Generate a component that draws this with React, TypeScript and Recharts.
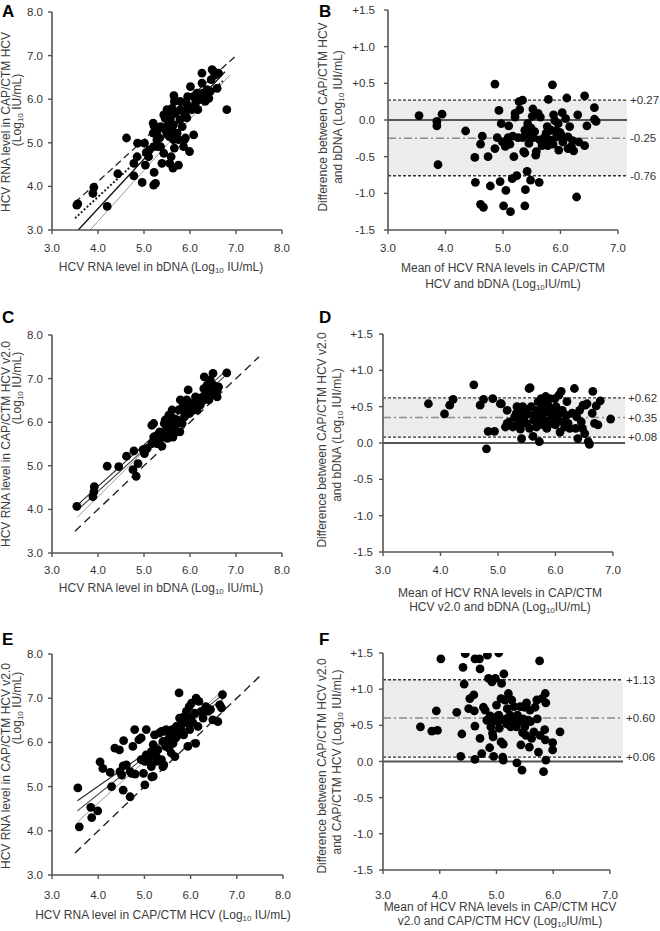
import React from 'react';
import { ScatterChart, Scatter, XAxis, YAxis, ReferenceLine, ReferenceArea } from 'recharts';

type Pt = [number, number];
type Seg = [number, number, number, number];

const scatterTicks = [3, 4, 5, 6, 7, 8];
const meanTicks = [3, 4, 5, 6, 7];
const diffTicks = [-1.5, -1, -0.5, 0, 0.5, 1, 1.5];

// Panel A: CAP/CTM HCV vs bDNA
const pointsA: Pt[] = [
  [3.54, 3.57], [3.56, 3.6], [3.91, 3.98], [3.89, 3.84], [4.2, 3.54], [4.43, 4.29], [4.62, 5.11], [4.78, 4.24],
  [4.78, 4.53], [4.85, 4.68], [4.86, 4.99], [4.96, 4.09], [5.01, 4.99], [5.03, 4.49], [5.05, 4.78], [5.1, 4.68],
  [5.12, 4.84], [5.2, 5.45], [5.2, 5.22], [5.21, 4.91], [5.21, 4.03], [5.25, 4.07], [5.22, 4.32], [5.22, 5.38],
  [5.28, 5.07], [5.3, 4.91], [5.34, 5.11], [5.36, 4.91], [5.39, 4.53], [5.43, 4.76], [5.46, 5.3], [5.46, 5.56],
  [5.49, 5.37], [5.5, 5.22], [5.51, 5.64], [5.54, 5.41], [5.55, 5.14], [5.56, 4.53], [5.57, 5.53], [5.59, 4.68],
  [5.61, 5.64], [5.61, 5.3], [5.63, 4.42], [5.64, 5.07], [5.64, 5.41], [5.66, 4.88], [5.68, 5.68], [5.72, 5.22],
  [5.75, 5.07], [5.75, 4.49], [5.78, 5.53], [5.79, 5.76], [5.79, 5.95], [5.83, 5.37], [5.85, 5.72], [5.86, 4.91],
  [5.88, 5.07], [5.9, 5.64], [5.92, 5.91], [5.93, 5.57], [5.95, 6.06], [5.97, 5.83], [5.99, 4.8], [6.01, 6.29],
  [6.04, 5.76], [6.07, 6.06], [6.08, 5.18], [6.12, 5.91], [6.15, 6.14], [6.17, 5.76], [6.21, 5.99], [6.22, 6.06],
  [6.26, 6.37], [6.26, 6.6], [6.28, 6.14], [6.31, 5.99], [6.33, 5.95], [6.37, 6.22], [6.41, 6.02], [6.44, 6.18],
  [6.46, 6.45], [6.48, 6.68], [6.51, 6.64], [6.55, 6.56], [6.59, 6.25], [6.62, 6.6], [6.8, 5.76], [5.5, 5.76],
  [5.43, 5.64], [5.61, 5.79], [5.65, 6.08], [5.66, 5.95], [5.36, 5.37], [5.28, 5.26], [5.9, 5.11],
];
const linesA: Seg[] = [
  [3.5, 3.63, 7.0, 7.0],
  [3.5, 3.27, 6.75, 6.45],
  [3.57, 3.0, 6.76, 6.63],
  [3.83, 3.0, 6.87, 6.56],
];

// Panel B: Bland-Altman CAP/CTM HCV - bDNA
const pointsB: Pt[] = [
  [3.54, 0.06], [3.85, -0.02], [3.85, -0.08], [3.94, 0.08], [3.87, -0.61], [4.35, -0.15], [4.51, -0.51], [4.61, -0.33],
  [4.64, -0.22], [4.52, -0.85], [4.61, -1.15], [4.66, -1.19], [4.74, -0.5], [4.78, -0.9], [4.86, 0.49], [4.86, -0.39],
  [4.9, -0.24], [4.93, 0.13], [4.95, -0.84], [4.97, -0.05], [4.99, -0.3], [5.04, -0.36], [5.05, -0.96], [5.01, -1.17],
  [5.09, -0.24], [5.1, -0.08], [5.12, -0.33], [5.13, -1.25], [5.16, -0.8], [5.17, -0.22], [5.19, -0.5], [5.21, 0.04],
  [5.21, 0.09], [5.24, -0.76], [5.26, -0.24], [5.28, 0.25], [5.29, 0.14], [5.34, 0.27], [5.34, -0.24], [5.36, -0.43],
  [5.38, -0.45], [5.38, -0.14], [5.39, -0.95], [5.38, -1.17], [5.42, -0.7], [5.43, -0.05], [5.45, -0.32], [5.46, -0.22],
  [5.48, -0.82], [5.49, -0.11], [5.51, 0.05], [5.52, 0.15], [5.53, -0.24], [5.55, -0.16], [5.57, -0.48], [5.58, -0.43],
  [5.61, 0.09], [5.63, -0.85], [5.64, -0.27], [5.65, 0.04], [5.68, -0.35], [5.7, -0.32], [5.72, -0.24], [5.75, -0.18],
  [5.77, -0.09], [5.78, -0.35], [5.79, 0.28], [5.81, -0.27], [5.84, -0.14], [5.86, 0.48], [5.87, -0.33], [5.88, 0.07],
  [5.9, -0.01], [5.92, -0.15], [5.93, -0.23], [5.96, -0.05], [5.97, -0.41], [5.99, -0.17], [6.01, -0.2], [6.03, 0.1],
  [6.04, -0.3], [6.09, 0.02], [6.11, 0.3], [6.13, -0.39], [6.13, -0.23], [6.16, -0.09], [6.19, -0.36], [6.21, -0.28],
  [6.23, -0.42], [6.28, -1.05], [6.3, 0.07], [6.32, -0.3], [6.42, 0.33], [6.42, -0.35], [6.46, -0.08], [6.59, 0.17],
  [6.59, 0.01], [6.62, -0.02],
];
const limitsB = [0.27, -0.25, -0.76];
const limitLabelsB = ['+0.27', '-0.25', '-0.76'];

// Panel C: CAP/CTM HCV v2.0 vs bDNA
const pointsC: Pt[] = [
  [3.54, 4.07], [3.92, 4.52], [3.91, 4.4], [3.89, 4.29], [4.2, 4.99], [4.45, 4.98], [4.62, 5.22], [4.76, 4.91],
  [4.78, 5.34], [4.83, 4.76], [4.87, 5.05], [4.98, 5.37], [5.01, 5.28], [5.07, 5.4], [5.17, 5.93], [5.21, 5.97],
  [5.17, 5.51], [5.21, 5.66], [5.25, 5.59], [5.28, 5.7], [5.32, 5.51], [5.34, 5.78], [5.39, 5.45], [5.43, 5.74],
  [5.44, 5.97], [5.46, 6.05], [5.5, 5.86], [5.51, 5.63], [5.54, 6.16], [5.56, 5.74], [5.57, 5.97], [5.59, 5.86],
  [5.61, 6.28], [5.63, 5.66], [5.64, 6.09], [5.68, 5.93], [5.7, 5.78], [5.75, 6.28], [5.78, 5.78], [5.79, 6.51],
  [5.83, 6.28], [5.85, 6.39], [5.88, 6.12], [5.9, 6.28], [5.93, 6.51], [5.96, 6.74], [5.99, 6.2], [6.01, 6.35],
  [6.04, 6.43], [6.08, 6.28], [6.12, 6.58], [6.17, 6.51], [6.19, 6.39], [6.22, 6.55], [6.26, 6.47], [6.3, 6.77],
  [6.31, 7.04], [6.33, 6.62], [6.37, 6.85], [6.41, 6.51], [6.44, 6.97], [6.46, 6.7], [6.5, 7.12], [6.51, 6.85],
  [6.55, 6.62], [6.59, 6.58], [6.62, 6.81], [6.8, 7.13], [5.28, 5.51], [5.36, 5.63], [5.57, 6.09], [5.72, 6.05],
  [5.83, 5.97], [5.92, 6.39], [6.04, 6.28], [6.15, 6.28], [6.22, 6.39], [6.33, 6.55], [6.41, 6.74], [6.59, 6.74],
];
const linesC: Seg[] = [
  [3.5, 3.5, 7.5, 7.5],
  [3.55, 4.1, 6.75, 7.15],
  [3.55, 3.98, 6.75, 7.05],
  [3.55, 3.82, 6.8, 7.22],
];

// Panel D: Bland-Altman CAP/CTM HCV v2.0 - bDNA
const pointsD: Pt[] = [
  [3.79, 0.54], [4.07, 0.4], [4.16, 0.52], [4.22, 0.6], [4.58, 0.8], [4.69, 0.52], [4.75, 0.6], [4.8, -0.08],
  [4.83, 0.16], [4.91, 0.61], [4.94, 0.16], [5.04, 0.54], [5.06, 0.54], [5.16, 0.45], [5.13, 0.22], [5.16, 0.27],
  [5.2, 0.29], [5.26, 0.22], [5.29, 0.36], [5.32, 0.41], [5.33, 0.5], [5.35, 0.27], [5.37, 0.34], [5.38, 0.45],
  [5.39, 0.19], [5.41, 0.06], [5.42, 0.4], [5.43, 0.5], [5.45, 0.29], [5.46, 0.36], [5.48, 0.46], [5.49, 0.27],
  [5.52, 0.4], [5.54, 0.75], [5.56, 0.76], [5.55, 0.2], [5.58, 0.5], [5.61, 0.09], [5.62, 0.31], [5.64, 0.38],
  [5.66, 0.45], [5.67, 0.22], [5.7, 0.57], [5.71, 0.31], [5.72, 0.02], [5.74, 0.41], [5.75, 0.61], [5.77, 0.5],
  [5.78, 0.34], [5.79, 0.25], [5.81, 0.57], [5.83, 0.64], [5.84, 0.43], [5.85, 0.2], [5.87, 0.52], [5.89, 0.31],
  [5.9, 0.61], [5.93, 0.41], [5.94, 0.27], [5.96, 0.45], [5.97, 0.36], [5.99, 0.61], [6.0, 0.25], [6.01, 0.5],
  [6.04, 0.31], [6.06, 0.66], [6.07, 0.41], [6.08, 0.15], [6.1, 0.71], [6.12, 0.45], [6.13, 0.29], [6.16, 0.22],
  [6.19, 0.38], [6.2, 0.57], [6.22, 0.27], [6.25, 0.2], [6.29, 0.41], [6.33, 0.75], [6.35, 0.2], [6.37, 0.36],
  [6.39, 0.06], [6.42, 0.45], [6.45, 0.29], [6.47, 0.2], [6.48, 0.52], [6.51, 0.13], [6.52, 0.52], [6.55, 0.54],
  [6.57, 0.02], [6.59, -0.02], [6.64, 0.41], [6.65, 0.71], [6.68, 0.27], [6.71, 0.51], [6.74, 0.25], [6.78, 0.58],
  [6.96, 0.33],
];
const limitsD = [0.62, 0.35, 0.08];
const limitLabelsD = ['+0.62', '+0.35', '+0.08'];

// Panel E: CAP/CTM HCV v2.0 vs CAP/CTM HCV
const pointsE: Pt[] = [
  [3.56, 4.97], [3.59, 4.09], [3.84, 4.53], [3.86, 4.3], [3.99, 4.45], [4.29, 5.0], [4.04, 5.56], [4.1, 5.41],
  [4.26, 5.32], [4.47, 5.34], [4.54, 4.92], [4.69, 4.77], [4.51, 5.26], [4.69, 5.34], [4.8, 5.28], [5.01, 5.04],
  [4.98, 5.3], [5.16, 5.22], [4.54, 5.47], [4.36, 5.87], [4.46, 5.83], [4.55, 6.04], [4.79, 6.29], [4.75, 5.91],
  [4.88, 6.06], [4.93, 6.1], [5.04, 6.29], [5.08, 5.57], [5.11, 5.68], [5.15, 5.79], [5.19, 5.95], [5.22, 6.17],
  [5.26, 5.68], [5.29, 5.83], [5.32, 6.21], [5.37, 5.61], [5.4, 6.02], [5.42, 5.49], [5.44, 6.25], [5.46, 5.91],
  [5.47, 6.29], [5.51, 6.06], [5.53, 5.87], [5.56, 6.17], [5.58, 5.76], [5.6, 6.29], [5.62, 5.98], [5.66, 5.68],
  [5.68, 6.1], [5.69, 6.36], [5.73, 6.17], [5.75, 7.12], [5.76, 6.55], [5.8, 6.29], [5.82, 6.44], [5.85, 6.17],
  [5.87, 6.59], [5.91, 6.7], [5.92, 6.44], [5.94, 5.91], [5.97, 6.81], [5.98, 6.29], [6.0, 6.55], [6.02, 6.89],
  [6.05, 6.44], [6.09, 6.66], [6.11, 5.98], [6.12, 7.0], [6.16, 6.36], [6.18, 6.93], [6.23, 6.7], [6.27, 6.55],
  [6.33, 6.81], [6.38, 6.7], [6.43, 6.74], [6.48, 6.51], [6.59, 6.47], [6.63, 6.85], [6.67, 6.78], [6.69, 7.08],
  [4.93, 5.61], [5.01, 5.57], [5.04, 5.72], [5.15, 5.45], [5.19, 5.23], [5.26, 5.57], [5.4, 5.45], [5.37, 6.25],
  [4.61, 5.49], [4.72, 5.3],
];
const linesE: Seg[] = [
  [3.5, 3.5, 7.5, 7.5],
  [3.55, 4.68, 6.7, 6.98],
  [3.55, 4.45, 6.7, 7.08],
  [3.55, 4.2, 6.72, 7.2],
];

// Panel F: Bland-Altman CAP/CTM HCV v2.0 - CAP/CTM HCV
const pointsF: Pt[] = [
  [3.66, 0.48], [3.86, 0.42], [3.96, 0.43], [3.94, 0.7], [4.02, 1.42], [4.3, 0.68], [4.39, 0.38], [4.37, 0.07],
  [4.41, 1.3], [4.43, 1.07], [4.45, 1.49], [4.51, 0.73], [4.53, 0.87], [4.6, 0.92], [4.61, 0.7], [4.62, 0.49],
  [4.62, 0.03], [4.62, 1.42], [4.7, 1.42], [4.71, 1.28], [4.71, 0.32], [4.74, 0.11], [4.77, 0.75], [4.8, 0.71],
  [4.83, 0.57], [4.84, 1.47], [4.86, 1.15], [4.88, 0.19], [4.89, 0.63], [4.9, 0.48], [4.92, 1.1], [4.93, 0.39],
  [4.94, 0.34], [4.95, 0.07], [4.96, 0.57], [4.98, 1.15], [5.0, 0.78], [5.01, 0.62], [5.02, 0.55], [5.04, 1.5],
  [5.04, 0.64], [5.05, 0.46], [5.08, 0.87], [5.08, 0.27], [5.09, 1.08], [5.09, 0.58], [5.11, 0.06], [5.12, 0.24],
  [5.12, 0.02], [5.13, 1.21], [5.15, 0.85], [5.17, 0.59], [5.18, 0.52], [5.19, 0.73], [5.21, 0.94], [5.23, 0.57],
  [5.24, 0.64], [5.25, 0.48], [5.27, 0.85], [5.29, 0.56], [5.31, 0.76], [5.33, 0.57], [5.35, 0.48], [5.36, -0.02],
  [5.37, 0.64], [5.39, 0.55], [5.42, 0.76], [5.43, 0.23], [5.45, -0.12], [5.46, 0.4], [5.47, 0.59], [5.49, 0.75],
  [5.5, 0.48], [5.52, 0.36], [5.53, 0.81], [5.56, 0.57], [5.58, 0.2], [5.59, 0.71], [5.6, 0.55], [5.62, 0.32],
  [5.66, 0.41], [5.68, 0.75], [5.71, 0.85], [5.72, 0.59], [5.74, 0.13], [5.76, 1.39], [5.77, 0.36], [5.8, 0.87],
  [5.83, -0.14], [5.85, 0.44], [5.86, 0.94], [5.86, 0.3], [5.87, 0.81], [5.87, 0.02], [5.99, 0.26], [5.99, 0.16],
  [6.12, 0.41],
];
const limitsF = [1.13, 0.6, 0.06];
const limitLabelsF = ['+1.13', '+0.60', '+0.06'];

const FONT = '"Liberation Sans", Arial, Helvetica, sans-serif';
const TEXT = '#333';
const TITLE = '#3c3c3c';
const AXIS = '#555';
const TICK_FS = 11.5;

const scatterLineStylesA = [
  { stroke: '#222', strokeWidth: 1.3, strokeDasharray: '7 4' },
  { stroke: '#222', strokeWidth: 2, strokeDasharray: '2 2' },
  { stroke: '#111', strokeWidth: 1.3 },
  { stroke: '#9a9a9a', strokeWidth: 1 },
];
const scatterLineStylesCE = [
  { stroke: '#222', strokeWidth: 1.4, strokeDasharray: '8 5' },
  { stroke: '#222', strokeWidth: 1.1 },
  { stroke: '#444', strokeWidth: 1.1 },
  { stroke: '#9a9a9a', strokeWidth: 1 },
];

const f1 = (v: number) => v.toFixed(1);
const fd = (v: number) => (v > 0 ? '+' + v.toFixed(1) : v.toFixed(1));
const toData = (pts: Pt[]) => pts.map(([x, y]) => ({ x, y }));
const dot = (p: any) => <circle cx={p.cx} cy={p.cy} r={4.4} fill="#000" />;

type Box = { left: number; top: number; width: number; height: number };
type Margin = { top: number; right: number; bottom: number; left: number };

function ScatterPanel(props: {
  box: Box; margin: Margin; yW: number; xH: number; xGap: number; yGap: number;
  points: Pt[]; lines: Seg[]; styles: any[];
}) {
  const { box, margin, yW, xH, xGap, yGap, points, lines, styles } = props;
  return (
    <div style={{ position: 'absolute', left: box.left, top: box.top }}>
      <ScatterChart width={box.width} height={box.height} margin={margin}>
        <XAxis type="number" dataKey="x" domain={[3, 8]} ticks={scatterTicks} interval={0} tickFormatter={f1}
          height={xH} tickSize={4} tickMargin={xGap} tick={{ fill: TEXT, fontSize: TICK_FS }}
          axisLine={{ stroke: AXIS, strokeWidth: 1.6 }} tickLine={{ stroke: AXIS, strokeWidth: 1.4 }} allowDataOverflow />
        <YAxis type="number" dataKey="y" domain={[3, 8]} ticks={scatterTicks} interval={0} tickFormatter={f1}
          width={yW} tickSize={4} tickMargin={yGap} tick={{ fill: TEXT, fontSize: TICK_FS }}
          axisLine={{ stroke: AXIS, strokeWidth: 1.6 }} tickLine={{ stroke: AXIS, strokeWidth: 1.4 }} allowDataOverflow />
        <Scatter data={toData(points)} shape={dot} isAnimationActive={false} />
        {lines.map((s, i) => (
          <ReferenceLine key={i} segment={[{ x: s[0], y: s[1] }, { x: s[2], y: s[3] }]} {...styles[i]} />
        ))}
      </ScatterChart>
    </div>
  );
}

function DiffPanel(props: {
  box: Box; margin: Margin; yW: number; xH: number; xGap: number; yGap: number; xMax: number;
  points: Pt[]; limits: number[]; labels: string[];
}) {
  const { box, margin, yW, xH, xGap, yGap, xMax, points, limits, labels } = props;
  const [upper, mean, lower] = limits;
  const lab = (v: string) => ({ value: v, position: 'right' as const, offset: 3, fill: TEXT, fontSize: TICK_FS });
  return (
    <div style={{ position: 'absolute', left: box.left, top: box.top }}>
      <ScatterChart width={box.width} height={box.height} margin={margin}>
        <XAxis type="number" dataKey="x" domain={[3, xMax]} ticks={meanTicks} interval={0} tickFormatter={f1}
          height={xH} tickSize={4} tickMargin={xGap} tick={{ fill: TEXT, fontSize: TICK_FS }}
          axisLine={false} tickLine={{ stroke: AXIS, strokeWidth: 1.4 }} allowDataOverflow />
        <YAxis type="number" dataKey="y" domain={[-1.5, 1.5]} ticks={diffTicks} interval={0} tickFormatter={fd}
          width={yW} tickSize={4} tickMargin={yGap} tick={{ fill: TEXT, fontSize: TICK_FS }}
          axisLine={{ stroke: AXIS, strokeWidth: 1.6 }} tickLine={{ stroke: AXIS, strokeWidth: 1.4 }} allowDataOverflow />
        <ReferenceArea y1={lower} y2={upper} fill="#ececec" fillOpacity={1} stroke="none" />
        <ReferenceLine y={0} stroke="#555" strokeWidth={1.8} />
        <ReferenceLine y={upper} stroke="#333" strokeWidth={1.3} strokeDasharray="3 2" label={lab(labels[0])} />
        <ReferenceLine y={mean} stroke="#8a8a8a" strokeWidth={1.5} strokeDasharray="8 3 2 3" label={lab(labels[1])} />
        <ReferenceLine y={lower} stroke="#333" strokeWidth={1.3} strokeDasharray="3 2" label={lab(labels[2])} />
        <ReferenceLine segment={[{ x: 3, y: -1.5 }, { x: 7, y: -1.5 }]} stroke={AXIS} strokeWidth={1.6} />
        <Scatter data={toData(points)} shape={dot} isAnimationActive={false} />
      </ScatterChart>
    </div>
  );
}

const Sub = () => <tspan fontSize={8} dy={3}>10</tspan>;

function HText(props: { x: number; y: number; children: React.ReactNode }) {
  return (
    <text x={props.x} y={props.y} textAnchor="middle" dominantBaseline="central" fontSize={12} fill={TITLE}>
      {props.children}
    </text>
  );
}
function VText(props: { x: number; y: number; children: React.ReactNode }) {
  return (
    <text x={props.x} y={props.y} transform={`rotate(-90 ${props.x} ${props.y})`} textAnchor="middle"
      dominantBaseline="central" fontSize={12} fill={TITLE}>
      {props.children}
    </text>
  );
}
function PanelLetter(props: { x: number; y: number; t: string }) {
  return (
    <text x={props.x} y={props.y} fontSize={17} fontWeight="bold" fill="#000">{props.t}</text>
  );
}

export default function App() {
  return (
    <div style={{ position: 'absolute', left: 0, top: 0, width: 660, height: 931, background: '#fff', fontFamily: FONT, overflow: 'hidden' }}>
      <ScatterPanel box={{ left: 0, top: 0, width: 330, height: 310 }} margin={{ top: 12, right: 48, bottom: 0, left: 0 }}
        yW={52} xH={80} xGap={10} yGap={5} points={pointsA} lines={linesA} styles={scatterLineStylesA} />
      <DiffPanel box={{ left: 330, top: 0, width: 330, height: 310 }} margin={{ top: 10, right: 33, bottom: 0, left: 0 }}
        yW={58} xH={80} xGap={10} yGap={9} xMax={7.157} points={pointsB} limits={limitsB} labels={limitLabelsB} />
      <ScatterPanel box={{ left: 0, top: 310, width: 330, height: 310 }} margin={{ top: 25, right: 48, bottom: 0, left: 0 }}
        yW={52} xH={67} xGap={9} yGap={5} points={pointsC} lines={linesC} styles={scatterLineStylesCE} />
      <DiffPanel box={{ left: 330, top: 310, width: 330, height: 310 }} margin={{ top: 24, right: 35, bottom: 0, left: 0 }}
        yW={53} xH={68} xGap={10} yGap={6} xMax={7.21} points={pointsD} limits={limitsD} labels={limitLabelsD} />
      <ScatterPanel box={{ left: 0, top: 620, width: 330, height: 311 }} margin={{ top: 34, right: 47, bottom: 0, left: 0 }}
        yW={52} xH={56} xGap={12} yGap={5} points={pointsE} lines={linesE} styles={scatterLineStylesCE} />
      <DiffPanel box={{ left: 330, top: 620, width: 330, height: 311 }} margin={{ top: 33, right: 37, bottom: 0, left: 0 }}
        yW={53} xH={61} xGap={17} yGap={6} xMax={7.23} points={pointsF} limits={limitsF} labels={limitLabelsF} />

      <svg width={660} height={931} style={{ position: 'absolute', left: 0, top: 0, pointerEvents: 'none', fontFamily: FONT }}>
        <PanelLetter x={2} y={17} t="A" />
        <PanelLetter x={319} y={17} t="B" />
        <PanelLetter x={2} y={323} t="C" />
        <PanelLetter x={319} y={323} t="D" />
        <PanelLetter x={2} y={645} t="E" />
        <PanelLetter x={319} y={645} t="F" />

        {/* A */}
        <HText x={161} y={267}>HCV RNA level in bDNA (Log<Sub /><tspan dy={-3}> IU/mL)</tspan></HText>
        <VText x={6} y={122}>HCV RNA level in CAP/CTM HCV</VText>
        <VText x={17} y={110}>(Log<Sub /><tspan dy={-3}> IU/mL)</tspan></VText>

        {/* B */}
        <HText x={503} y={268}>Mean of HCV RNA levels in CAP/CTM</HText>
        <HText x={503} y={284}>HCV and bDNA (Log<Sub /><tspan dy={-3}>IU/mL)</tspan></HText>
        <VText x={323} y={117}>Difference between CAP/CTM HCV</VText>
        <VText x={338} y={117}>and bDNA (Log<Sub /><tspan dy={-3}> IUI/mL)</tspan></VText>

        {/* C */}
        <HText x={161} y={588}>HCV RNA level in bDNA (Log<Sub /><tspan dy={-3}> IU/mL)</tspan></HText>
        <VText x={6} y={444}>HCV RNA level in CAP/CTM HCV v2.0</VText>
        <VText x={17} y={388}>(Log<Sub /><tspan dy={-3}> IU/mL)</tspan></VText>

        {/* D */}
        <HText x={500} y={593}>Mean of HCV RNA levels in CAP/CTM</HText>
        <HText x={500} y={607}>HCV v2.0 and bDNA (Log<Sub /><tspan dy={-3}>IU/mL)</tspan></HText>
        <VText x={322} y={440}>Difference between  CAP/CTM HCV v2.0</VText>
        <VText x={337} y={435}>and bDNA (Log<Sub /><tspan dy={-3}> IUI/mL)</tspan></VText>

        {/* E */}
        <HText x={163} y={915}>HCV RNA level in CAP/CTM HCV (Log<Sub /><tspan dy={-3}> IU/mL)</tspan></HText>
        <VText x={6} y={766}>HCV RNA level in CAP/CTM HCV v2.0</VText>
        <VText x={17} y={708}>(Log<Sub /><tspan dy={-3}> IU/mL)</tspan></VText>

        {/* F */}
        <HText x={500} y={907}>Mean of HCV RNA levels in CAP/CTM HCV</HText>
        <HText x={500} y={921}>v2.0 and CAP/CTM HCV (Log<Sub /><tspan dy={-3}>IU/mL)</tspan></HText>
        <VText x={322} y={766}>Difference between  CAP/CTM HCV v2.0</VText>
        <VText x={337} y={762}>and CAP/CTM HCV (Log<Sub /><tspan dy={-3}> IUI/mL)</tspan></VText>
      </svg>
    </div>
  );
}
